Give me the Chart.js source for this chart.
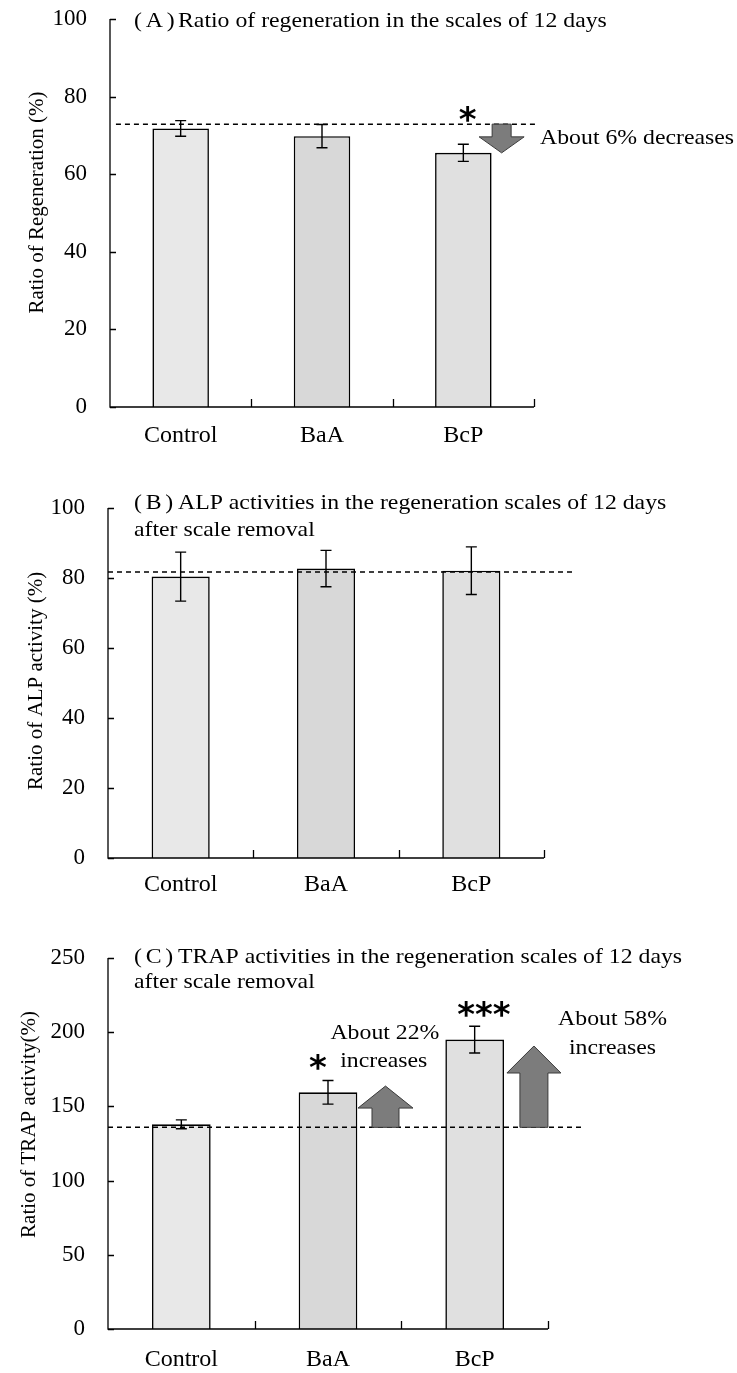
<!DOCTYPE html>
<html><head><meta charset="utf-8">
<script src="https://cdn.jsdelivr.net/npm/chart.js@4.4.1/dist/chart.umd.min.js"></script>
<style>
html,body{margin:0;padding:0;background:#fff;}
#wrap{position:relative;width:737px;height:1373px;overflow:hidden;background:#fff;}
canvas{position:absolute;left:0;}
</style></head><body>
<div id="wrap">
<canvas id="cA" width="737" height="465" style="top:0px"></canvas>
<canvas id="cB" width="737" height="440" style="top:465px"></canvas>
<canvas id="cC" width="737" height="468" style="top:905px"></canvas>
</div>
<script>
// ---------- DATA ----------
const categories = ['Control', 'BaA', 'BcP'];

// (A) Ratio of regeneration (%)
const regenValues = [71.8, 69.8, 65.5];
const regenErrors = [2.0, 3.0, 2.2];
const regenReference = 72.9;
const regenStars = ['', '', '*'];
const regenArrowTo = [null, null, 65.5];

// (B) ALP activity (%)
const alpValues = [80.4, 82.7, 82.1];
const alpErrors = [7.0, 5.2, 6.8];
const alpReference = 81.7;

// (C) TRAP activity (%)
const trapValues = [137.9, 159.5, 195.0];
const trapErrors = [3.0, 8.0, 9.0];
const trapReference = 135.9;
const trapStars = ['', '*', '***'];
const trapArrowTo = [null, 163.7, 190.7];

// axis ranges
const regenAxis = { max: 100, step: 20 };
const alpAxis = { max: 100, step: 20 };
const trapAxis = { max: 250, step: 50 };

// ---------- STYLE ----------
const SERIF = '"Liberation Serif", "Times New Roman", serif';
const SERIF_FAMILY = '"Liberation Serif", "Times New Roman", serif';
const SX = 1.08;
const TXT_SIZE = 22;
const barFills = ['#e8e8e8', '#d8d8d8', '#e0e0e0'];

function txt(ctx, s, x, y, o) {
  o = o || {};
  ctx.save();
  ctx.font = (o.weight || 'normal') + ' ' + (o.size || TXT_SIZE) + 'px ' + (o.family || SERIF);
  ctx.fillStyle = '#000';
  ctx.textAlign = o.align || 'left';
  ctx.textBaseline = o.baseline || 'alphabetic';
  if (o.spacing) ctx.letterSpacing = o.spacing;
  ctx.translate(x, y);
  if (o.rotate) ctx.rotate(o.rotate);
  ctx.scale(o.sx == null ? SX : o.sx, 1);
  ctx.fillText(s, 0, 0);
  ctx.restore();
}

function makeDecor(d) {
  return {
    id: 'decor',
    afterDatasetsDraw(chart) {
      const ctx = chart.ctx, xs = chart.scales.x, ys = chart.scales.y, ca = chart.chartArea;
      const meta = chart.getDatasetMeta(0);
      // axes with inside ticks
      ctx.save();
      ctx.strokeStyle = '#000';
      ctx.lineWidth = 1.3;
      ctx.beginPath();
      ctx.moveTo(ca.left, ca.top);
      ctx.lineTo(ca.left, ca.bottom);
      ctx.lineTo(ca.right, ca.bottom);
      ys.ticks.forEach(t => {
        const py = Math.round(ys.getPixelForValue(t.value)) + 0.5;
        ctx.moveTo(ca.left, py); ctx.lineTo(ca.left + 6, py);
      });
      for (let i = 0; i < categories.length; i++) {
        const px = Math.round(xs.getPixelForValue(i + 0.5)) + 0.5;
        ctx.moveTo(px, ca.bottom); ctx.lineTo(px, ca.bottom - 8);
      }
      ctx.stroke();
      ctx.restore();

      // error bars
      ctx.save();
      ctx.strokeStyle = '#000';
      ctx.lineWidth = 1.4;
      d.values.forEach((v, i) => {
        const bar = meta.data[i];
        const x = bar.x;
        const yt = ys.getPixelForValue(v + d.errors[i]);
        const yb = ys.getPixelForValue(v - d.errors[i]);
        ctx.beginPath();
        ctx.moveTo(x, yt); ctx.lineTo(x, yb);
        ctx.moveTo(x - 5.5, yt); ctx.lineTo(x + 5.5, yt);
        ctx.moveTo(x - 5.5, yb); ctx.lineTo(x + 5.5, yb);
        ctx.stroke();
      });
      ctx.restore();

      // dashed reference line
      ctx.save();
      ctx.strokeStyle = '#000';
      ctx.lineWidth = 1.5;
      ctx.setLineDash([5, 4]);
      const yr = ys.getPixelForValue(d.ref);
      ctx.beginPath();
      ctx.moveTo(xs.getPixelForValue(d.refFrom), yr);
      ctx.lineTo(xs.getPixelForValue(d.refTo), yr);
      ctx.stroke();
      ctx.restore();

      // arrows
      (d.arrows || []).forEach(a => {
        const cx = xs.getPixelForValue(a.x);
        const y0 = ys.getPixelForValue(d.ref);
        const y1 = ys.getPixelForValue(a.to);
        const dir = y1 > y0 ? 1 : -1;
        const hb = y1 - dir * a.head;
        ctx.save();
        ctx.beginPath();
        ctx.moveTo(cx - a.shaft / 2, y0);
        ctx.lineTo(cx + a.shaft / 2, y0);
        ctx.lineTo(cx + a.shaft / 2, hb);
        ctx.lineTo(cx + a.w / 2, hb);
        ctx.lineTo(cx, y1);
        ctx.lineTo(cx - a.w / 2, hb);
        ctx.lineTo(cx - a.shaft / 2, hb);
        ctx.closePath();
        ctx.fillStyle = '#7c7c7c';
        ctx.fill();
        ctx.strokeStyle = '#3a3a3a';
        ctx.lineWidth = 1;
        ctx.stroke();
        ctx.restore();
      });

      // significance stars
      (d.stars || []).forEach(s => {
        const x = xs.getPixelForValue(s.x);
        const y = ys.getPixelForValue(s.y);
        txt(ctx, s.text, x, y + 0.54 * 34, { align: 'center', size: 34, family: '"DejaVu Sans", sans-serif', weight: 'bold', sx: 1 });
      });

      // notes
      (d.notes || []).forEach(n => {
        const x = xs.getPixelForValue(n.x);
        const y = ys.getPixelForValue(n.y);
        txt(ctx, n.text, x, y + 7.5, { align: n.align || 'center' });
      });

      // panel title
      d.title.forEach((line, k) => {
        const bx = ca.left + d.titleDx;
        const by = ca.top + d.titleDy[k];
        if (line.tag) {
          txt(ctx, line.tag, bx, by, { spacing: '3.5px' });
          txt(ctx, line.text, bx + 44, by);
        } else {
          txt(ctx, line.text, bx, by);
        }
      });

      // y axis title (rotated)
      txt(ctx, d.yTitle, d.yTitleX, ys.getPixelForValue(d.yTitleAt), { align: 'center', rotate: -Math.PI / 2, sx: 1, size: 21 });
    }
  };
}

function makeChart(id, values, axis, L, decor) {
  return new Chart(document.getElementById(id), {
    type: 'bar',
    data: {
      labels: categories,
      datasets: [{
        data: values,
        backgroundColor: barFills,
        borderColor: '#000',
        borderWidth: { top: 1.6, left: 1.6, right: 1.6, bottom: 0 },
        borderSkipped: 'start',
        barPercentage: 0.4,
        categoryPercentage: 1.0
      }]
    },
    options: {
      responsive: false,
      animation: false,
      devicePixelRatio: 1,
      layout: { padding: { left: 0, right: 737 - L.right, top: L.top, bottom: 0 } },
      plugins: { legend: { display: false }, tooltip: { enabled: false }, title: { display: false } },
      scales: {
        x: {
          grid: { display: false, drawTicks: false },
          border: { display: false },
          ticks: { color: '#000', font: { family: SERIF_FAMILY, size: 24 }, padding: L.xPad, maxRotation: 0, autoSkip: false },
          afterFit(s) { s.height = L.h - L.bottom; s.paddingLeft = 0; s.paddingRight = 0; }
        },
        y: {
          min: 0, max: axis.max,
          grid: { display: false, drawTicks: false },
          border: { display: false },
          ticks: { stepSize: axis.step, color: '#000', font: { family: SERIF_FAMILY, size: 23 }, padding: 23 },
          afterFit(s) { s.width = L.left; s.paddingTop = 0; s.paddingBottom = 0; }
        }
      }
    },
    plugins: [makeDecor(decor)]
  });
}

// Panel A
makeChart('cA', regenValues, regenAxis,
  { h: 465, top: 19, bottom: 407, left: 110, right: 534, xPad: 14 },
  {
    values: regenValues, errors: regenErrors, ref: regenReference, refFrom: -0.458, refTo: 2.51,
    arrows: regenArrowTo.map((t, i) => t == null ? null : { x: i + 0.271, to: t, w: 45, shaft: 19, head: 16 }).filter(Boolean),
    stars: regenStars.map((s, i) => s ? { text: s, x: i + 0.03, y: 75.8 } : null).filter(Boolean),
    notes: [{ text: 'About 6% decreases', x: 2.543, y: 69.6, align: 'left' }],
    title: [{ tag: '(A)', text: 'Ratio of regeneration in the scales of 12 days' }],
    titleDx: 24, titleDy: [8],
    yTitle: 'Ratio of Regeneration (%)', yTitleX: 43, yTitleAt: 52.7
  });

// Panel B
makeChart('cB', alpValues, alpAxis,
  { h: 440, top: 43, bottom: 393, left: 108, right: 544, xPad: 12 },
  {
    values: alpValues, errors: alpErrors, ref: alpReference, refFrom: -0.5, refTo: 2.7,
    title: [{ tag: '(B)', text: 'ALP activities in the regeneration scales of 12 days' }, { text: 'after scale removal' }],
    titleDx: 26, titleDy: [1, 28],
    yTitle: 'Ratio of ALP activity (%)', yTitleX: 42, yTitleAt: 50.6
  });

// Panel C
makeChart('cC', trapValues, trapAxis,
  { h: 468, top: 53, bottom: 424, left: 108, right: 548, xPad: 16 },
  {
    values: trapValues, errors: trapErrors, ref: trapReference, refFrom: -0.5, refTo: 2.74,
    arrows: [
      { x: 1.392, to: trapArrowTo[1], w: 55, shaft: 27, head: 22 },
      { x: 2.404, to: trapArrowTo[2], w: 54, shaft: 28, head: 27 }
    ],
    stars: [
      { text: trapStars[1], x: 0.931, y: 180.6 },
      { text: trapStars[2], x: 2.063, y: 216.3 }
    ],
    notes: [
      { text: 'About 22%', x: 1.388, y: 200.8 },
      { text: 'increases', x: 1.38, y: 181.9 },
      { text: 'About 58%', x: 2.94, y: 210.2 },
      { text: 'increases', x: 2.94, y: 190.7 }
    ],
    title: [{ tag: '(C)', text: 'TRAP activities in the regeneration scales of 12 days' }, { text: 'after scale removal' }],
    titleDx: 26, titleDy: [5, 30],
    yTitle: 'Ratio of TRAP activity(%)', yTitleX: 35, yTitleAt: 137.8
  });
</script>
</body></html>
